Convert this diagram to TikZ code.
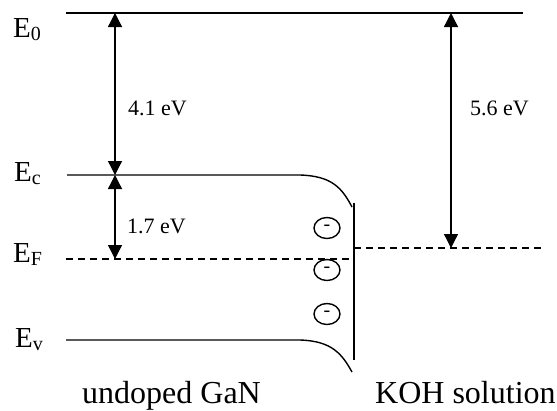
\documentclass[tikz,border=0pt]{standalone}
\usepackage{fontspec}
\setmainfont{Liberation Serif}
\usetikzlibrary{arrows.meta,shapes.geometric}
\newcommand{\lsub}[1]{\raisebox{-3pt}{\fontsize{20}{20}\selectfont #1}}
\begin{document}
\begin{tikzpicture}[x=1pt,y=-1pt,
  level/.style={line width=1.4pt},
  thick level/.style={line width=2pt},
  fermi/.style={line width=1.3pt, dash pattern=on 7pt off 5pt},
  gap/.style={line width=1.3pt, {Triangle[width=14pt,length=14pt]}-{Triangle[width=14pt,length=14pt]}},
  elabel/.style={anchor=base west, inner sep=0pt, font=\fontsize{29}{29}\selectfont},
  evlabel/.style={anchor=base west, inner sep=0pt, font=\fontsize{22}{22}\selectfont},
  bottomlabel/.style={anchor=base west, inner sep=0pt, font=\fontsize{32}{32}\selectfont},
  charge/.style={ellipse, draw, line width=1.4pt, minimum width=26pt, minimum height=21pt, inner sep=0pt, font=\fontsize{20}{20}\selectfont}]
\useasboundingbox (0,0) rectangle (557,410);
% coordinates
\coordinate (e0l) at (66,13);
\coordinate (e0r) at (523,13);
\coordinate (ecl) at (67,175);
\coordinate (ecb) at (300,175);
\coordinate (ece) at (352,207);
\coordinate (evl) at (66,340);
\coordinate (evb) at (300,340);
\coordinate (eve) at (352,372);
\coordinate (efl) at (66,259);
\coordinate (efm) at (354,259);
\coordinate (efr0) at (354,248);
\coordinate (efr) at (543,248);
\coordinate (itop) at (354,203);
\coordinate (ibot) at (354,360);
\coordinate (a0) at (115,13);
\coordinate (a1) at (115,175);
\coordinate (a2) at (115,259);
\coordinate (b0) at (451,13);
\coordinate (b1) at (451,248);
% levels
\draw[thick level] (e0l) -- (e0r);
\draw[level] (ecl) -- (ecb) .. controls (332,176) and (342,188) .. (ece);
\draw[level] (evl) -- (evb) .. controls (332,341) and (342,354) .. (eve);
\draw[level] (itop) -- (ibot);
\draw[fermi] (efl) -- (efm);
\draw[fermi] (efr0) -- (efr);
% arrows
\draw[gap] (a0) -- (a1);
\draw[gap] (a1) -- (a2);
\draw[gap] (b0) -- (b1);
% labels
\node[elabel] (l0) at (13,37) {E\lsub{0}};
\node[elabel] (lc) at (14,181) {E\lsub{c}};
\node[elabel] (lf) at (13,262) {E\lsub{F}};
\node[elabel] (lv) at (15,347) {E\lsub{v}};
\node[evlabel] (t41) at (128,115) {4.1 eV};
\node[evlabel] (t17) at (127,233) {1.7 eV};
\node[evlabel] (t56) at (470,115) {5.6 eV};
\node[bottomlabel] (gan) at (82,403) {undoped GaN};
\node[bottomlabel] (koh) at (375,403) {KOH solution};
% charges
\node[charge] (c1) at (327,228) {-};
\node[charge] (c2) at (327,270) {-};
\node[charge] (c3) at (327,314) {-};
\end{tikzpicture}
\end{document}
